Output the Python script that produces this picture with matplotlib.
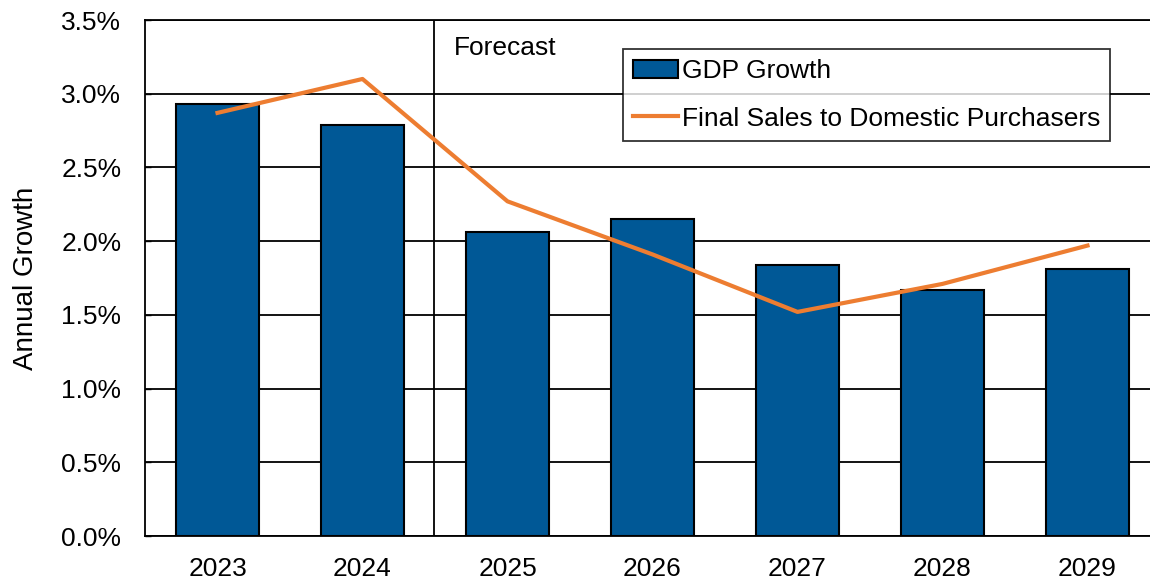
import numpy as np
import matplotlib
matplotlib.use('Agg')
from matplotlib import pyplot as plt
from matplotlib.ticker import FuncFormatter

plt.rcParams['font.family'] = ['Liberation Sans', 'DejaVu Sans']

# Data
years = ['2023', '2024', '2025', '2026', '2027', '2028', '2029']
gdp_growth = [2.93, 2.79, 2.06, 2.15, 1.84, 1.67, 1.81]
final_sales = [2.87, 3.10, 2.27, 1.91, 1.52, 1.71, 1.97]

bar_color = '#005896'
line_color = '#ED7D31'
fs = 19

fig = plt.figure(figsize=(11.5, 5.79), dpi=100)
ax = fig.add_axes([145/1150, 43/579, 1015/1150, 516/579])

x = np.arange(len(years))
bars = ax.bar(x, gdp_growth, width=0.57, color=bar_color, edgecolor='black',
              linewidth=1.5, label='GDP Growth', zorder=3)
line, = ax.plot(x, final_sales, color=line_color, linewidth=3,
                label='Final Sales to Domestic Purchasers', zorder=4)

# Forecast divider
ax.axvline(1.49, color='black', linewidth=1.3, zorder=2)
ax.text(1.63, 3.23, 'Forecast', fontsize=fs, va='bottom', ha='left')

ax.set_xlim(-0.5, 6.5)
ax.set_ylim(0, 3.5)
ax.set_yticks(np.arange(0, 3.51, 0.5))
ax.yaxis.set_major_formatter(FuncFormatter(lambda v, p: f'{v:.1f}%'))
ax.set_xticks(x)
ax.set_xticklabels(years)
ax.tick_params(axis='y', direction='in', length=4, width=1, labelsize=fs, pad=17)
ax.tick_params(axis='x', length=0, labelsize=fs, pad=15)
ax.grid(axis='y', color='black', linewidth=1.3, zorder=1)
ax.set_axisbelow(True)
for s in ax.spines.values():
    s.set_linewidth(1.3)
ax.set_ylabel('Annual Growth', fontsize=20, labelpad=16)

leg = ax.legend([bars, line], ['GDP Growth', 'Final Sales to Domestic Purchasers'],
                loc='upper left', bbox_to_anchor=(478/1015, 1 - 29/516),
                fontsize=fs, frameon=True, fancybox=False, edgecolor='black',
                handlelength=1.7, handletextpad=0.15, borderpad=0.38,
                labelspacing=0.89, borderaxespad=0)
leg.get_frame().set_linewidth(1.3)

fig.savefig('out.png', dpi=100)
